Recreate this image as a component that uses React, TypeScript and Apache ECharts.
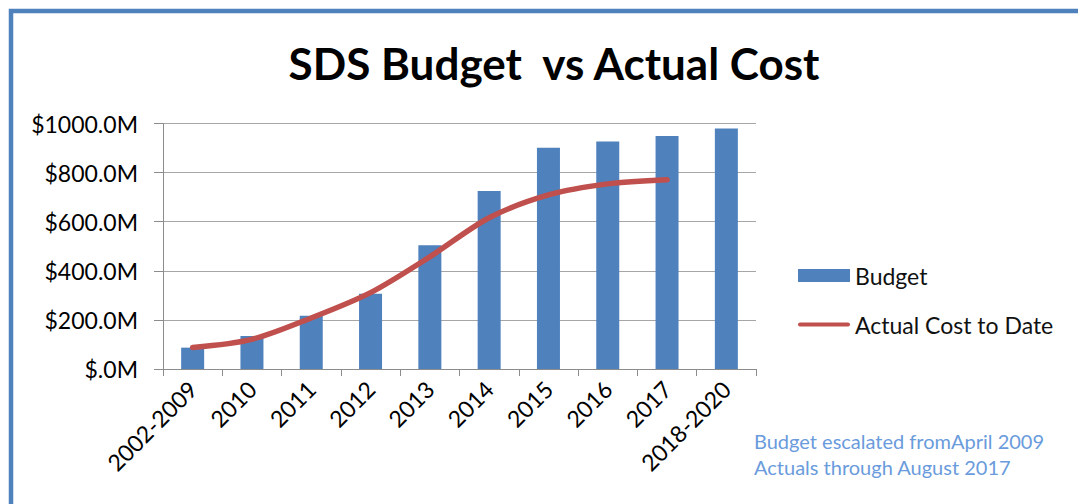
import React, { useEffect, useRef } from "react";
import * as echarts from "echarts";

const categories = ["2002-2009", "2010", "2011", "2012", "2013", "2014", "2015", "2016", "2017", "2018-2020"];
const budget = [87, 134, 217, 307, 504, 725, 901, 927, 949, 980];
const actual: (number | null)[] = [88, 121, 208, 311, 457, 616, 709, 754, 771, null];
const yTicks = { min: 0, max: 1000, interval: 200 };
const titleText = "SDS Budget  vs Actual Cost";
const noteLines = ["Budget escalated fromApril 2009", "Actuals through August 2017"];

const FONT = "Lato, 'Open Sans', sans-serif";

export default function App() {
  const ref = useRef<HTMLDivElement>(null);
  useEffect(() => {
    if (!ref.current) return;
    const chart = echarts.init(ref.current, null, { renderer: "svg" });
    chart.setOption({
      animation: false,
      backgroundColor: "#ffffff",
      title: {
        text: titleText,
        left: 549,
        top: 36,
        textAlign: "center",
        textStyle: { fontFamily: FONT, fontSize: 44, fontWeight: "bold", color: "#000000" },
      },
      grid: { left: 163, right: 322, top: 123.5, bottom: 135 },
      legend: {
        orient: "vertical",
        left: 793,
        top: 259,
        itemGap: 26,
        itemWidth: 52,
        itemHeight: 13,
        textStyle: { fontFamily: FONT, fontSize: 23, color: "#111111" },
        data: [
          { name: "Budget", icon: "rect" },
          { name: "Actual Cost to Date", icon: "path://M2,0 L50,0 A2,2 0 0 1 50,4 L2,4 A2,2 0 0 1 2,0 Z" },
        ],
      },
      xAxis: {
        type: "category",
        data: categories,
        axisLine: { lineStyle: { color: "#8c8c8c", width: 1 } },
        axisTick: { show: true, length: 7, lineStyle: { color: "#8c8c8c" } },
        axisLabel: {
          rotate: 45,
          interval: 0,
          margin: 16,
          fontFamily: FONT,
          fontSize: 23,
          color: "#000000",
        },
      },
      yAxis: {
        type: "value",
        min: yTicks.min,
        max: yTicks.max,
        interval: yTicks.interval,
        axisLine: { show: true, lineStyle: { color: "#8c8c8c", width: 1 } },
        axisTick: { show: true, length: 9, lineStyle: { color: "#8c8c8c" } },
        splitLine: { show: true, lineStyle: { color: "#a6a6a6", width: 1 } },
        axisLabel: {
          margin: 25,
          fontFamily: FONT,
          fontSize: 23,
          color: "#000000",
          formatter: (v: number) => "$" + (v === 0 ? ".0" : v.toFixed(1)) + "M",
        },
      },
      series: [
        {
          name: "Budget",
          type: "bar",
          data: budget,
          barWidth: 23,
          itemStyle: { color: "#4f81bd" },
        },
        {
          name: "Actual Cost to Date",
          type: "line",
          data: actual,
          smooth: 0.3,
          symbol: "none",
          connectNulls: false,
          lineStyle: { color: "#c0504d", width: 5.5, cap: "round" },
          itemStyle: { color: "#c0504d" },
        },
      ],
      graphic: [
        {
          type: "rect",
          shape: { x: 11, y: 11, width: 1200, height: 700 },
          style: { fill: "none", stroke: "#4f81bd", lineWidth: 4.5 },
          silent: true,
        },
        {
          type: "text",
          left: 754,
          top: 428,
          style: {
            text: noteLines.join("\n"),
            fontFamily: FONT,
            fontSize: 20,
            lineHeight: 26,
            fill: "#6a9bdc",
          },
        },
      ],
    });
    return () => chart.dispose();
  }, []);
  return (
    <div
      ref={ref}
      style={{ position: "absolute", left: 0, top: 0, width: 1078, height: 504 }}
    />
  );
}
